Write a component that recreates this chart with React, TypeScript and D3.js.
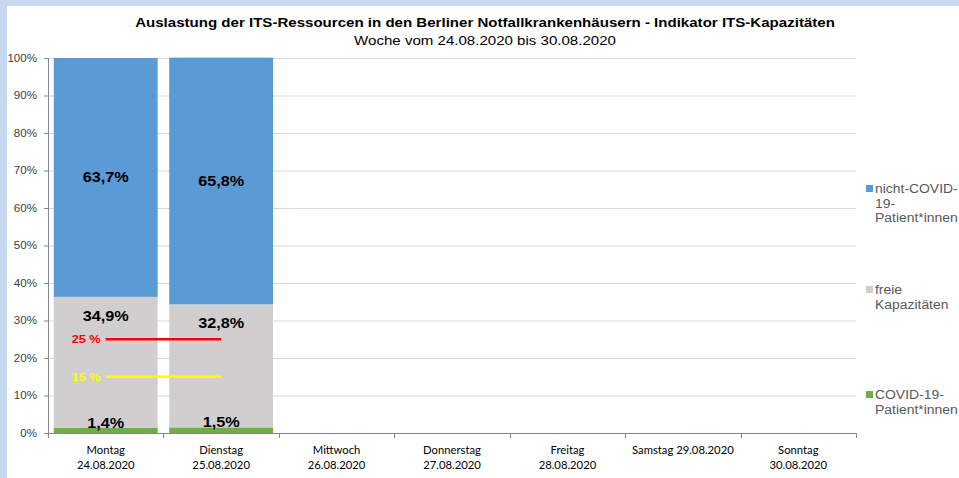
import * as React from "react";
import * as d3 from "d3";

// data
const days = [
  ["Montag", "24.08.2020"],
  ["Dienstag", "25.08.2020"],
  ["Mittwoch", "26.08.2020"],
  ["Donnerstag", "27.08.2020"],
  ["Freitag", "28.08.2020"],
  ["Samstag 29.08.2020"],
  ["Sonntag", "30.08.2020"],
];
const covid = [1.4, 1.5, null, null, null, null, null];
const frei = [34.9, 32.8, null, null, null, null, null];
const nichtCovid = [63.7, 65.8, null, null, null, null, null];
const yTicks = [0, 10, 20, 30, 40, 50, 60, 70, 80, 90, 100];
const thresholds = [
  { value: 25, label: "25 %", color: "#ff0000" },
  { value: 15, label: "15 %", color: "#ffff00" },
];

const series = [
  { key: "covid", values: covid, color: "#70ad47", legend: ["COVID-19-", "Patient*innen"] },
  { key: "frei", values: frei, color: "#d0cece", legend: ["freie", "Kapazitäten"] },
  { key: "nicht", values: nichtCovid, color: "#5b9bd5", legend: ["nicht-COVID-", "19-", "Patient*innen"] },
];

const W = 959, H = 478;
const plot = { left: 48, right: 856, top: 58, bottom: 433 };
const arial = "Liberation Sans, Arial, sans-serif";
const calibri = "Lato, Open Sans, sans-serif";
// the source picture is a bit stretched horizontally
const SX = 1.16;

type Sel = d3.Selection<any, unknown, null, undefined>;

function txt(g: Sel, x: number, y: number, s: string, o: { anchor?: string; size: number; bold?: boolean; fill?: string; family?: string; sx?: number }) {
  return g.append("text")
    .attr("transform", `translate(${x},${y}) scale(${o.sx ?? SX},1)`)
    .attr("text-anchor", o.anchor ?? "start")
    .attr("font-family", o.family ?? arial)
    .attr("font-weight", o.bold ? "bold" : "normal")
    .attr("font-size", o.size)
    .attr("fill", o.fill ?? "#000")
    .text(s);
}

export default function App() {
  const ref = React.useRef<SVGSVGElement>(null);

  React.useEffect(() => {
    const svg = d3.select(ref.current) as Sel;
    svg.selectAll("*").remove();

    // background frame
    svg.append("rect").attr("width", W).attr("height", H).attr("fill", "#c6d9f1");
    svg.append("rect").attr("x", 7).attr("y", 6).attr("width", W - 7).attr("height", H - 6).attr("fill", "#fff");

    const x = d3.scaleBand().domain(days.map((d, i) => String(i))).range([plot.left, plot.right]).paddingInner(0.1).paddingOuter(0.05);
    const y = d3.scaleLinear().domain([0, 100]).range([plot.bottom, plot.top]);

    // title
    txt(svg, 485, 27, "Auslastung der ITS-Ressourcen in den Berliner Notfallkrankenhäusern - Indikator ITS-Kapazitäten",
      { anchor: "middle", size: 13, bold: true });
    txt(svg, 485, 45, "Woche vom 24.08.2020 bis 30.08.2020", { anchor: "middle", size: 13 });

    // grid
    svg.append("g").selectAll("line").data(yTicks.filter(t => t > 0)).join("line")
      .attr("x1", plot.left).attr("x2", plot.right)
      .attr("y1", d => y(d) + 0.5).attr("y2", d => y(d) + 0.5)
      .attr("stroke", "#d9d9d9");

    // y axis
    const ya = svg.append("g");
    ya.append("line").attr("x1", plot.left + 0.5).attr("x2", plot.left + 0.5)
      .attr("y1", plot.top).attr("y2", plot.bottom + 4).attr("stroke", "#868686");
    ya.selectAll("line.t").data(yTicks).join("line").attr("class", "t")
      .attr("x1", plot.left - 4).attr("x2", plot.left)
      .attr("y1", d => y(d) + 0.5).attr("y2", d => y(d) + 0.5).attr("stroke", "#868686");
    yTicks.forEach(t => txt(ya, plot.left - 11, y(t) + 3.5, t + "%", { anchor: "end", size: 10, fill: "#404040" }));

    // stacked bars
    days.forEach((d, i) => {
      let base = 0;
      series.forEach(s => {
        const v = s.values[i];
        if (v == null) return;
        svg.append("rect")
          .attr("x", x(String(i))!).attr("width", x.bandwidth())
          .attr("y", y(base + v)).attr("height", y(base) - y(base + v))
          .attr("fill", s.color);
        base += v;
      });
    });

    // data labels
    const fmt = (v: number) => v.toFixed(1).replace(".", ",") + "%";
    days.forEach((d, i) => {
      if (covid[i] == null) return;
      const cx = x(String(i))! + x.bandwidth() / 2;
      const c = covid[i]!, f = frei[i]!, n = nichtCovid[i]!;
      const o = { anchor: "middle", size: 14, bold: true };
      txt(svg, cx, y(c), fmt(c), o);
      txt(svg, cx, y(c + f) + 24, fmt(f), o);
      txt(svg, cx, (y(c + f) + y(100)) / 2 + 5, fmt(n), o);
    });

    // x axis
    const xa = svg.append("g");
    xa.append("line").attr("x1", plot.left).attr("x2", plot.right + 0.5)
      .attr("y1", plot.bottom + 0.5).attr("y2", plot.bottom + 0.5).attr("stroke", "#868686");
    const edges = days.map((d, i) => plot.left + i * (plot.right - plot.left) / days.length).concat([plot.right]);
    xa.selectAll("line.t").data(edges).join("line").attr("class", "t")
      .attr("x1", d => Math.round(d) + 0.5).attr("x2", d => Math.round(d) + 0.5)
      .attr("y1", plot.bottom).attr("y2", plot.bottom + 5).attr("stroke", "#868686");
    days.forEach((d, i) => {
      const cx = x(String(i))! + x.bandwidth() / 2;
      d.forEach((line, j) => txt(xa, cx, 454 + j * 15, line, { anchor: "middle", size: 12, family: calibri, sx: 0.94 }));
    });

    // threshold lines from first to second day centre
    const c0 = x("0")! + x.bandwidth() / 2, c1 = x("1")! + x.bandwidth() / 2;
    thresholds.forEach(t => {
      svg.append("line").attr("x1", c0).attr("x2", c1)
        .attr("y1", y(t.value)).attr("y2", y(t.value))
        .attr("stroke", t.color).attr("stroke-width", 2.5);
      txt(svg, c0 - 5, y(t.value) + 4, t.label, { anchor: "end", size: 11, bold: true, fill: t.color });
    });

    // legend
    const legendY = { nicht: 193, frei: 294, covid: 399 } as Record<string, number>;
    series.forEach(s => {
      const ly = legendY[s.key];
      svg.append("rect").attr("x", 866).attr("y", ly - 8).attr("width", 7).attr("height", 7).attr("fill", s.color);
      s.legend.forEach((line, j) => txt(svg, 875, ly + j * 14.5, line, { size: 12, fill: "#595959" }));
    });
  }, []);

  return (
    <div style={{ position: "fixed", left: 0, top: 0 }}>
      <svg ref={ref} width={W} height={H} style={{ display: "block" }} />
    </div>
  );
}
